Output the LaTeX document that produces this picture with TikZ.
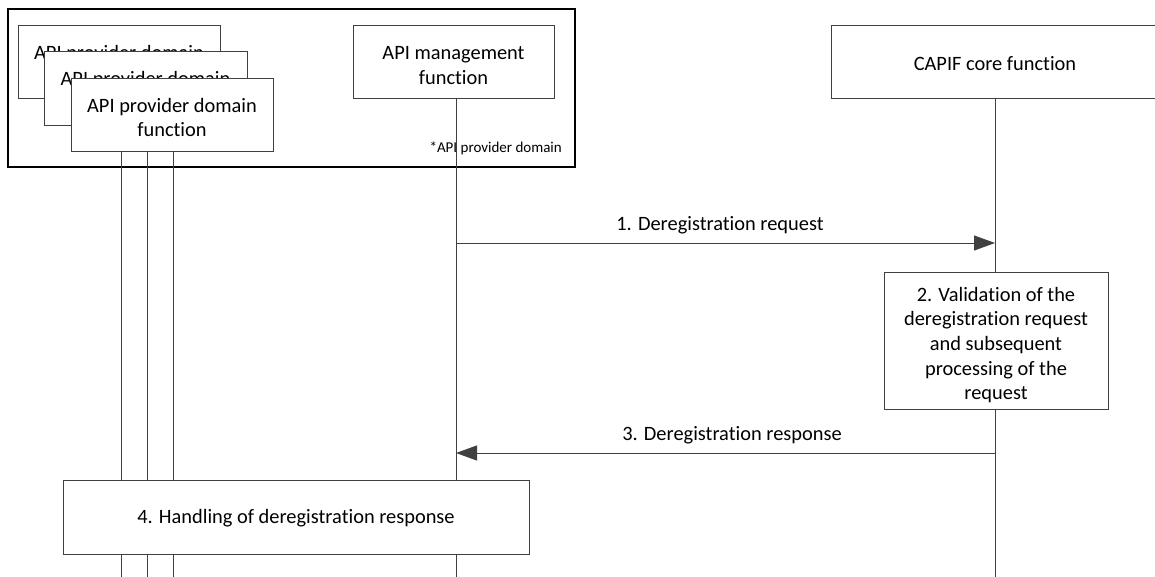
\documentclass[tikz,border=0pt]{standalone}
\usepackage{fontspec}
\setmainfont{Carlito}[Ligatures={NoCommon}]
\usetikzlibrary{arrows.meta}
\definecolor{linegray}{HTML}{404040}
\tikzset{
  x=1pt, y=-1pt,
  mainfont/.style={font=\fontsize{20.4}{24.7}\selectfont},
  fnbox/.style={draw=linegray, line width=1pt, fill=white, inner sep=0pt},
  boxtext/.style={inner sep=0pt, align=center, mainfont, text=black},
  lifeline/.style={draw=linegray, line width=1pt},
  msg/.style={draw=linegray, line width=1pt, -{Triangle[length=21pt,width=15pt]}, color=linegray},
  lbl/.style={mainfont, inner sep=0pt, text=black},
}
\begin{document}
\begin{tikzpicture}
\useasboundingbox (0,0) rectangle (1155,577);
% outer domain box
\node[draw=black, line width=2.2pt, minimum width=567pt, minimum height=158pt, inner sep=0pt] (dom) at (291.5,88) {};
% bottom coordinates for lifelines
\coordinate (endA) at (121,577);
\coordinate (endB) at (147,577);
\coordinate (endC) at (173,577);
\coordinate (endM) at (456,577);
\coordinate (endF) at (995,577);
% lifelines (drawn first, boxes cover them)
\draw[lifeline] (121,99) -- (endA);
\draw[lifeline] (147,126) -- (endB);
\draw[lifeline] (173,152) -- (endC);
\draw[lifeline] (456,99) -- (endM);
\draw[lifeline] (995,99) -- (endF);
% stacked API provider domain function boxes
\node[fnbox, minimum width=202pt, minimum height=73pt,
  label={[boxtext, yshift=-2pt]center:API provider domain\\function}] (pa) at (119,62.5) {};
\node[fnbox, minimum width=203pt, minimum height=74pt,
  label={[boxtext, yshift=-2pt]center:API provider domain\\function}] (pb) at (145.5,89) {};
\node[fnbox, minimum width=202pt, minimum height=73pt,
  label={[boxtext, yshift=-2pt]center:API provider domain\\function}] (pc) at (172,115.5) {};
% API management function
\node[fnbox, minimum width=201pt, minimum height=73pt,
  label={[boxtext, yshift=-3pt]center:API management\\function}] (mgmt) at (453.5,62.5) {};
% CAPIF core function
\node[fnbox, minimum width=328pt, minimum height=73pt,
  label={[boxtext, yshift=-1pt]center:CAPIF core function}] (capif) at (995,62.5) {};
% domain label
\node[inner sep=0pt, font=\fontsize{15}{18}\selectfont, anchor=east] (domlbl) at (562,148) {*API provider domain};
% step 2 box
\node[fnbox, minimum width=224pt, minimum height=137pt,
  label={[boxtext, yshift=-4.5pt]center:2. Validation of the\\deregistration request\\and subsequent\\processing of the\\request}] (s2) at (996,340.5) {};
% step 4 box
\node[fnbox, minimum width=466pt, minimum height=74pt,
  label={[boxtext, yshift=-1pt]center:4. Handling of deregistration response}] (s4) at (296,517) {};
% messages
\coordinate (m1s) at (456,243);
\coordinate (m1e) at (995,243);
\coordinate (m3s) at (995,453);
\coordinate (m3e) at (456,453);
\draw[msg] (m1s) -- (m1e);
\draw[msg] (m3s) -- (m3e);
\node[lbl] (l1) at (720,225) {1. Deregistration request};
\node[lbl] (l3) at (732,435) {3. Deregistration response};
\end{tikzpicture}
\end{document}
